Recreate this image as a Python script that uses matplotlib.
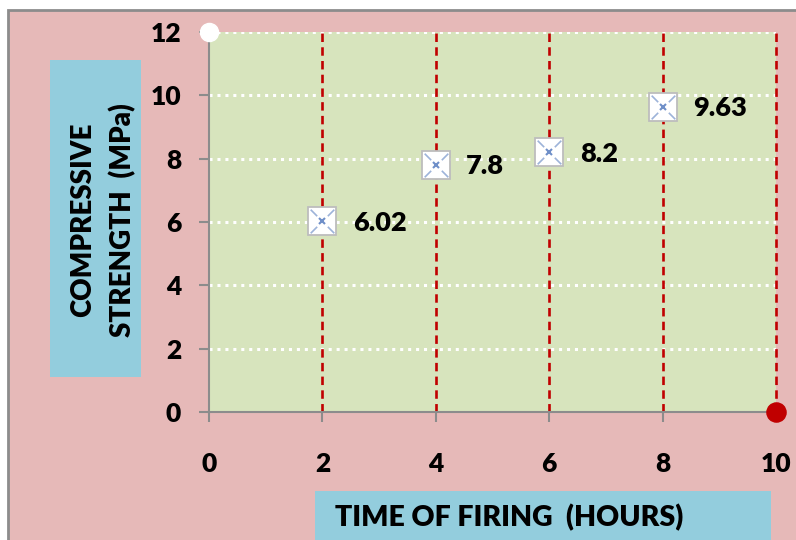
import matplotlib
matplotlib.use("Agg")
import matplotlib.pyplot as plt
from matplotlib.patches import Rectangle
from matplotlib.path import Path

time_hours = [2, 4, 6, 8]
strength_mpa = [6.02, 7.8, 8.2, 9.63]
label_texts = ["6.02", "7.8", "8.2", "9.63"]
x_ticks = [0, 2, 4, 6, 8, 10]
y_ticks = [0, 2, 4, 6, 8, 10, 12]
vline_x = [2, 4, 6, 8, 10]
corner_x = [0, 10]
corner_y = [12, 0]

PINK = "#E6B9B8"
GREEN = "#D7E4BD"
BLUE = "#93CDDD"
GRAY = "#8C8C8C"
RED = "#C00000"
WEIGHT = "heavy"

plt.rcParams['font.family'] = ['Lato', 'DejaVu Sans']

W, H = 796, 540
fig = plt.figure(figsize=(W / 100, H / 100), dpi=100)
fig.patch.set_facecolor("white")

def fx(px):
    return px / W

def fy(py):
    return 1 - py / H

# outer pink frame
fig.patches.append(Rectangle((fx(8), fy(560)), fx(820) - fx(8), fy(10) - fy(560),
                             transform=fig.transFigure, facecolor=PINK,
                             edgecolor=GRAY, linewidth=2, zorder=-2))
# y-label box
fig.patches.append(Rectangle((fx(50), fy(377)), fx(141) - fx(50), fy(60) - fy(377),
                             transform=fig.transFigure, facecolor=BLUE,
                             edgecolor="none", zorder=-1))
# x-label box
fig.patches.append(Rectangle((fx(315), fy(545)), fx(771) - fx(315), fy(491) - fy(545),
                             transform=fig.transFigure, facecolor=BLUE,
                             edgecolor="none", zorder=-1))

ax = fig.add_axes([fx(209), fy(412), fx(776) - fx(209), fy(32) - fy(412)])
ax.set_zorder(2)
ax.set_facecolor(GREEN)
ax.set_xlim(0, 10)
ax.set_ylim(0, 12)

for s in ["top", "right"]:
    ax.spines[s].set_visible(False)
for s in ["left", "bottom"]:
    ax.spines[s].set_color(GRAY)
    ax.spines[s].set_linewidth(1.5)

ax.set_xticks(x_ticks)
ax.set_yticks(y_ticks)
ax.tick_params(axis="both", direction="out", length=7, width=1.5, color=GRAY,
               labelsize=19, labelcolor="black")
ax.tick_params(axis="y", pad=13)
ax.tick_params(axis="x", pad=22)
for lab in ax.get_xticklabels() + ax.get_yticklabels():
    lab.set_fontweight(WEIGHT)

# horizontal dotted white gridlines
for yv in y_ticks[1:]:
    ax.axhline(yv, color="white", linestyle=(0, (1, 1.6)), linewidth=2.2, zorder=1)

# vertical red dashed lines
for xv in vline_x:
    ax.plot([xv, xv], [0, 12], color=RED, linestyle=(0, (3.2, 2)), linewidth=1.9,
            zorder=2, clip_on=False)

# corner markers
ax.scatter(corner_x[:1], corner_y[:1], s=170, color="white", zorder=5, clip_on=False)
ax.scatter(corner_x[1:], corner_y[1:], s=190, color=RED, zorder=5, clip_on=False)

# data markers (picture-like square markers)
corner_marks = Path(
    [(-1, -1), (-0.45, -0.45), (1, -1), (0.45, -0.45),
     (1, 1), (0.45, 0.45), (-1, 1), (-0.45, 0.45)],
    [Path.MOVETO, Path.LINETO] * 4)
ax.plot(time_hours, strength_mpa, linestyle="none", marker="s", markersize=20,
        markerfacecolor="white", markeredgecolor="#BDBDBD", markeredgewidth=1.3,
        zorder=6)
ax.plot(time_hours, strength_mpa, linestyle="none", marker=corner_marks, markersize=17,
        markerfacecolor="none", markeredgecolor="#9DB3D9", markeredgewidth=1.2,
        zorder=7)
ax.plot(time_hours, strength_mpa, linestyle="none", marker="x", markersize=4,
        markeredgecolor="#6F8FC8", markeredgewidth=1.5, zorder=7)

for xv, yv, t in zip(time_hours, strength_mpa, label_texts):
    ax.annotate(t, (xv, yv), xytext=(22, -1), textcoords="offset points",
                ha="left", va="center", fontsize=19.5, fontweight=WEIGHT, zorder=8)

fig.text(fx(103), fy(220), "COMPRESSIVE\nSTRENGTH  (MPa)", rotation=90,
         ha="center", va="center", multialignment="center", fontsize=20,
         fontweight=WEIGHT, linespacing=1.55, zorder=3)
fig.text(fx(335), fy(518), "TIME OF FIRING  (HOURS)", ha="left", va="center",
         fontsize=20.5, fontweight=WEIGHT, zorder=3)

fig.savefig("out.png", dpi=100, facecolor=fig.get_facecolor())
